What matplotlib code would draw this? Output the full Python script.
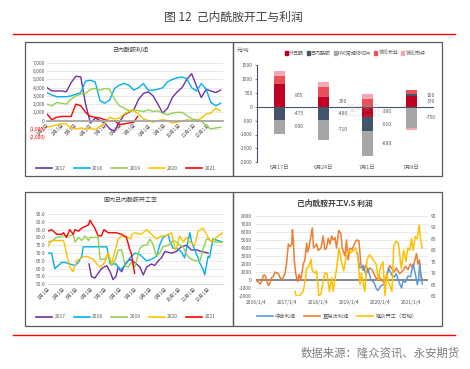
import matplotlib
matplotlib.use("Agg")
import matplotlib.pyplot as plt
from matplotlib.lines import Line2D
from matplotlib.patches import Rectangle, Patch

plt.rcParams['font.family'] = ['Noto Sans CJK SC', 'DejaVu Sans']
plt.rcParams['axes.unicode_minus'] = False

W, H = 470, 369

# ---------------- Data ----------------
# Panel 1: caprolactam profit by year (day of year, yuan/t)
p17_d = [0, 10, 20, 30, 40, 50, 60, 70, 80, 90, 100, 110, 120, 130, 140, 150, 160, 170, 180, 190, 200, 210, 220, 230, 240, 250, 260, 270, 280, 290, 300, 310, 320, 330, 340, 350, 360]
p17_v = [4000, 3600, 3600, 3600, 3500, 4600, 5400, 5300, 2000, -300, 300, 0, -300, -1000, -1300, -200, 700, 1000, 1300, 2600, 3300, 3500, 3000, 2000, 900, 1500, 2800, 3500, 4000, 5000, 5700, 4200, 2800, 3800, 3600, 3400, 3700]
p18_d = p17_d
p18_v = [3400, 3100, 2900, 2900, 2900, 3000, 3200, 3400, 4800, 4900, 4700, 2400, 2100, 2500, 3900, 4300, 4500, 4300, 3700, 4000, 4500, 3700, 3700, 3800, 4000, 4700, 5000, 5200, 5300, 5100, 4000, 3600, 4500, 3800, 2200, 1800, 2100]
p19_d = p17_d
p19_v = [2000, 1800, 2200, 2100, 2000, 2600, 3000, 3200, 3300, 3800, 3900, 3700, 3900, 3800, 2600, 1800, 1500, 1200, 1300, 1200, 1100, 1300, 1100, 1200, 900, 700, 900, 1000, 1000, 600, 200, 100, 0, -700, -1000, -900, -800]
p20_d = p17_d
p20_v = [-800, -700, -500, -400, -400, -900, -1000, -900, -1000, -900, -1100, -700, -300, 400, 200, 300, 800, 1100, 1200, 800, 200, 0, -200, 0, 100, 0, -300, -200, -100, 100, 0, -100, 300, 800, 900, 1500, 1200]
p21_d = [0, 10, 20, 30, 40, 50, 60, 70, 80, 90, 100, 110, 120, 130, 140, 150, 160, 170, 180, 188]
p21_v = [800, 100, 400, 500, 500, 500, 2000, 1800, 1000, 500, 400, 300, 100, -100, 0, -500, -400, -300, -200, 500]
profit_years = ['2017', '2018', '2019', '2020', '2021']
month_labels = [f'{m}月1日' for m in range(1, 13)]
month_days = [0, 31, 59, 90, 120, 151, 181, 212, 243, 273, 304, 334]

# Panel 2: weekly profit change (yuan/t)
bar_dates = ['6月17日', '6月24日', '7月1日', '7月8日']
chg_cyclohexanone = [805, 350, -380, 370]
chg_caprolactam = [-475, -480, -510, 100]
chg_pa6 = [-500, -710, -880, -750]
chg_filament = [310, 350, 265, 140]
chg_cord = [180, 180, 180, -100]
bar_names = ['环己酮', '己内酰胺', 'PA6常规纺切片', '锦纶长丝', '锦纶帘杆']

# Panel 3: operating rate by year (day of year, %)
r17_d = [86, 91, 98, 105, 112, 123, 130, 136, 142, 147, 154, 161, 171, 185, 192, 199, 206, 216, 223, 230, 237, 244, 258, 268, 278, 289, 299, 310, 320, 334]
r17_v = [63, 55, 54, 57, 60, 62, 58, 53, 55, 61, 58, 63, 66, 63, 61, 56, 61, 63, 62, 65, 67, 71, 70, 71, 74, 75, 72, 72, 71, 70]
r18_d = [0, 8, 15, 22, 29, 36, 46, 57, 64, 71, 74, 123, 130, 143, 150, 161, 171, 182, 192, 206, 216, 227, 233, 240, 251, 254, 261, 268, 278, 285, 289, 296, 299, 306, 313, 316, 323, 327, 334, 337, 344, 355, 365]
r18_v = [70, 70, 60, 62, 64, 64, 63, 62, 64, 68, 74, 74, 63, 63, 59, 62, 67, 70, 69, 65, 66, 68, 75, 80, 82, 78, 73, 73, 71, 67, 73, 83, 78, 72, 67, 64, 60, 56, 68, 67, 79, 78, 77]
r19_d = [0, 10, 19, 32, 46, 53, 57, 64, 71, 78, 85, 88, 105, 109, 119, 126, 133, 140, 147, 154, 161, 168, 174, 181, 192, 199, 206, 213, 220, 226, 233, 240, 251, 261, 268, 275, 282, 289, 299, 310, 317, 324, 331, 341, 351, 365]
r19_v = [77, 78, 80, 81, 81, 82, 77, 80, 78, 81, 78, 80, 80, 66, 66, 70, 62, 65, 72, 72, 62, 61, 64, 61, 73, 75, 75, 79, 75, 68, 70, 74, 75, 78, 77, 75, 74, 69, 66, 65, 65, 73, 79, 78, 77, 77]
r20_d = [0, 8, 26, 33, 39, 46, 53, 60, 71, 81, 95, 102, 109, 119, 126, 133, 140, 147, 154, 161, 168, 173, 175, 181, 195, 206, 216, 226, 237, 247, 258, 265, 268, 275, 282, 289, 296, 306, 313, 323, 334, 341, 351, 365]
r20_v = [74, 78, 78, 78, 70, 61, 58, 65, 67, 68, 66, 63, 61, 64, 70, 63, 71, 79, 81, 81, 80, 79, 82, 83, 82, 85, 82, 79, 81, 81, 83, 72, 73, 81, 77, 80, 77, 75, 84, 86, 80, 77, 80, 83]
r21_d = [0, 8, 19, 29, 33, 39, 46, 53, 57, 64, 71, 78, 85, 88, 98, 105, 112, 117, 126, 143, 154, 164, 171, 174, 181]
r21_v = [84, 85, 82, 82, 83, 80, 85, 82, 85, 84, 86, 87, 88, 91, 86, 81, 81, 85, 83, 83, 82, 80, 72, 70, 57]

# Panel 4: operating rate vs profit (decimal year)
direct_t = [2016.00, 2016.09, 2016.14, 2016.19, 2016.25, 2016.30, 2016.35, 2016.41, 2016.46, 2016.51, 2016.57, 2016.62, 2016.67, 2016.73, 2016.78, 2016.83, 2016.89, 2016.94, 2016.99, 2017.05, 2017.10, 2017.16, 2017.18, 2017.21, 2017.24, 2017.29, 2017.35, 2017.40, 2017.45, 2017.53, 2017.58, 2017.64, 2017.67, 2017.71, 2017.82, 2017.86, 2017.96, 2018.01, 2018.10, 2018.17, 2018.22, 2018.28, 2018.33, 2018.39, 2018.44, 2018.49, 2018.55, 2018.60, 2018.67, 2018.74, 2018.78, 2018.87, 2018.92, 2018.97, 2019.03, 2019.10, 2019.17, 2019.24, 2019.32, 2019.38, 2019.45, 2019.53, 2019.59, 2019.67, 2019.74, 2019.83, 2019.91, 2019.96, 2020.04, 2020.13, 2020.20, 2020.31, 2020.36, 2020.45, 2020.52, 2020.63, 2020.74, 2020.81, 2020.90, 2020.97, 2021.06, 2021.17, 2021.22, 2021.27, 2021.30, 2021.35]
direct_v = [0, -300, -500, -200, 600, 600, 0, -700, -400, 300, 400, 1000, 900, 800, 300, 100, 300, 800, 2000, 4500, 4200, 4400, 6300, 5000, 2500, 700, -200, 700, 0, 2000, 2500, 4600, 3500, 4000, 6500, 4000, 4500, 3700, 4000, 5500, 3800, 4000, 5200, 4500, 5500, 5000, 5300, 4000, 6200, 5800, 4000, 3000, 5000, 2500, 4000, 3800, 4500, 5000, 4900, 2000, 1200, 1800, 1000, 1500, 1300, 500, 0, 500, 0, -300, 500, 1800, 1500, 1000, 1500, 800, 1200, 1700, 1300, 2000, 1500, 3300, 2000, 2500, 800, 0]
total_t = [2019.27, 2019.34, 2019.45, 2019.55, 2019.60, 2019.71, 2019.80, 2019.88, 2019.93, 2020.01, 2020.12, 2020.20, 2020.27, 2020.38, 2020.46, 2020.52, 2020.63, 2020.69, 2020.74, 2020.81, 2020.90, 2020.98, 2021.06, 2021.13, 2021.20, 2021.24, 2021.27, 2021.33, 2021.36]
total_v = [3400, 1500, 1800, 600, 1500, 0, -300, -1100, -1300, -800, -500, 0, 1500, 600, 400, 800, -500, -1000, 0, -300, 500, 400, 2000, 800, -600, 200, 2000, 0, -500]
rate_t = [2017.27, 2017.30, 2017.40, 2017.53, 2017.58, 2017.64, 2017.71, 2017.78, 2017.82, 2017.91, 2017.96, 2018.03, 2018.10, 2018.22, 2018.29, 2018.37, 2018.44, 2018.49, 2018.60, 2018.68, 2018.76, 2018.83, 2018.91, 2019.00, 2019.07, 2019.15, 2019.22, 2019.29, 2019.35, 2019.40, 2019.51, 2019.58, 2019.66, 2019.77, 2019.87, 2019.95, 2020.00, 2020.09, 2020.16, 2020.21, 2020.27, 2020.38, 2020.44, 2020.51, 2020.59, 2020.68, 2020.76, 2020.83, 2020.89, 2020.95, 2021.01, 2021.06, 2021.13, 2021.19, 2021.26, 2021.29, 2021.35]
rate_v = [62, 60, 60, 62, 66, 72, 73, 76, 71, 70, 71, 60, 61, 70, 70, 62, 68, 62, 72, 81, 75, 71, 77, 80, 79, 80, 81, 76, 65, 70, 62, 76, 78, 76, 74, 67, 72, 75, 60, 70, 66, 62, 82, 84, 83, 72, 80, 75, 81, 80, 85, 80, 86, 85, 91, 86, 81]
year_ticks = [2016, 2017, 2018, 2019, 2020, 2021]
year_labels = ['2016/1/4', '2017/1/4', '2018/1/4', '2019/1/4', '2020/1/4', '2021/1/4']

# ---------------- Figure ----------------
fig = plt.figure(figsize=(W / 100, H / 100), dpi=100)
fig.patch.set_facecolor('white')


def rect(x0, y0, x1, y1):
    return [x0 / W, 1 - y1 / H, (x1 - x0) / W, (y1 - y0) / H]


def fx(x):
    return x / W


def fy(y):
    return 1 - y / H


TXT = '#595959'

# main title and red rules
fig.text(fx(233), fy(17), '图 12  己内酰胺开工与利润', ha='center', va='center', fontsize=8.5, color='#404040')
fig.add_artist(Line2D([fx(13), fx(455)], [fy(34), fy(34)], color='#FF0000', lw=1.0))
fig.add_artist(Line2D([fx(13), fx(455)], [fy(335), fy(335)], color='#FF0000', lw=1.0))
fig.text(fx(460), fy(353), '数据来源：隆众资讯、永安期货', ha='right', va='center', fontsize=8.2, color='#7F7F7F')

# panel boxes
for (x0, y0, x1, y1) in [(25, 42, 233, 176), (233, 42, 442, 176), (25, 192, 233, 326), (233, 192, 442, 326)]:
    fig.add_artist(Rectangle((fx(x0), fy(y1)), (x1 - x0) / W, (y1 - y0) / H, fill=False,
                             edgecolor='#595959', lw=0.9, transform=fig.transFigure))

year_colors = ['#7030A0', '#00B0F0', '#92D050', '#FFC000', '#FF0000']

# ---------------- Panel 1 ----------------
ax1 = fig.add_axes(rect(47, 63, 223, 137))
for d, v, c in zip([p17_d, p18_d, p19_d, p20_d, p21_d], [p17_v, p18_v, p19_v, p20_v, p21_v], year_colors):
    ax1.plot(d, v, color=c, lw=1.0)
ax1.set_xlim(0, 365)
ax1.set_ylim(-2000, 7000)
for s in ['top', 'right', 'left']:
    ax1.spines[s].set_visible(False)
ax1.spines['bottom'].set_position(('data', 0))
ax1.spines['bottom'].set_color('#A6A6A6')
ax1.spines['bottom'].set_linewidth(1.3)
ax1.yaxis.grid(True, color='#E0E0E0', lw=0.5)
ax1.set_axisbelow(True)
yt = list(range(-2000, 7001, 1000))
ax1.set_yticks(yt)
ylabs = []
for v in yt:
    if v < 0:
        ylabs.append(f'({-v:,})')
    elif v == 0:
        ylabs.append('0')
    else:
        ylabs.append(f'{v:,}')
ax1.set_yticklabels(ylabs, fontsize=3.6, color=TXT)
for t, v in zip(ax1.get_yticklabels(), yt):
    if v < 0:
        t.set_color('#FF0000')
ax1.set_xticks(month_days)
ax1.set_xticklabels(month_labels, fontsize=3.6, color=TXT, rotation=45, ha='right', rotation_mode='anchor')
ax1.tick_params(length=0, pad=1.5)
fig.text(fx(130), fy(50), '己内酰胺利润', ha='center', va='center', fontsize=4.3, color='#404040')
h1 = [Line2D([], [], color=c, lw=1.2) for c in year_colors]
fig.legend(h1, profit_years, loc='center', bbox_to_anchor=(fx(126), fy(168)), ncol=5, frameon=False,
           fontsize=3.6, handlelength=3.2, columnspacing=1.6, handletextpad=0.5, labelcolor=TXT)

# ---------------- Panel 2 ----------------
ax2 = fig.add_axes(rect(257, 65, 433, 162.3))
series = [chg_cyclohexanone, chg_caprolactam, chg_pa6, chg_filament, chg_cord]
bcolors = ['#C00023', '#44546A', '#A6A6A6', '#E8505B', '#F4A7B0']
xs = list(range(len(bar_dates)))
pos_base = [0.0] * len(xs)
neg_base = [0.0] * len(xs)
bw = 0.25
for vals, c in zip(series, bcolors):
    bottoms = []
    for i, v in enumerate(vals):
        if v >= 0:
            bottoms.append(pos_base[i])
            pos_base[i] += v
        else:
            bottoms.append(neg_base[i])
            neg_base[i] += v
    ax2.bar(xs, vals, bw, bottom=bottoms, color=c, zorder=2)
ax2.set_xlim(-0.5, 3.5)
ax2.set_ylim(-2000, 1500)
ax2.set_yticks(range(-2000, 1501, 500))
ax2.set_yticklabels([str(v) for v in range(-2000, 1501, 500)], fontsize=3.6, color=TXT)
for s in ['top', 'right']:
    ax2.spines[s].set_visible(False)
ax2.spines['left'].set_color('#44546A')
ax2.spines['left'].set_linewidth(0.8)
ax2.spines['bottom'].set_position(('data', 0))
ax2.spines['bottom'].set_color('#44546A')
ax2.spines['bottom'].set_linewidth(0.8)
ax2.set_xticks([])
ax2.tick_params(axis='y', length=1.5, width=0.5, color='#44546A', pad=1.5)
for i, lab in enumerate(bar_dates):
    ax2.text(i, -2080, lab, ha='center', va='top', fontsize=3.8, color=TXT, clip_on=False)
# value labels
for i in xs:
    pb = 0.0
    nb = 0.0
    for k, vals in enumerate(series[:3]):
        v = vals[i]
        if v >= 0:
            cy = pb + v / 2
            pb += v
        else:
            cy = nb + v / 2
            nb += v
        ax2.text(i + 0.45, cy, f'{v}', ha='center', va='center', fontsize=3.6, color=TXT)
# faint watermark
ax2.text(1.92, -60, '隆众资讯', ha='center', va='center', fontsize=6, color='#B0B0B0', alpha=0.35, zorder=5)
ax2.text(1.92, -330, 'WWW.OILCHEM.NET', ha='center', va='center', fontsize=2.6, color='#B0B0B0', alpha=0.4, zorder=5)
fig.text(fx(243), fy(50), '元/吨', ha='center', va='center', fontsize=3.8, color=TXT)
h2 = [Patch(color=c) for c in bcolors]
fig.legend(h2, bar_names, loc='center', bbox_to_anchor=(fx(355), fy(53)), ncol=5, frameon=False,
           fontsize=3.6, handlelength=0.6, handleheight=0.6, columnspacing=0.6, handletextpad=0.2, labelcolor=TXT)

# ---------------- Panel 3 ----------------
ax3 = fig.add_axes(rect(47.7, 214, 223, 284.3))
for d, v, c in zip([r17_d, r18_d, r19_d, r20_d, r21_d], [r17_v, r18_v, r19_v, r20_v, r21_v], year_colors):
    ax3.plot(d, v, color=c, lw=1.0)
ax3.set_xlim(0, 365)
ax3.set_ylim(50, 95)
for s in ['top', 'right', 'left']:
    ax3.spines[s].set_visible(False)
ax3.spines['bottom'].set_color('#D9D9D9')
ax3.yaxis.grid(True, color='#E0E0E0', lw=0.5)
ax3.set_axisbelow(True)
ax3.set_yticks(range(50, 96, 5))
ax3.set_yticklabels([f'{v:.1f}' for v in range(50, 96, 5)], fontsize=3.6, color=TXT)
ax3.set_xticks(month_days)
ax3.set_xticklabels(month_labels, fontsize=3.6, color=TXT, rotation=45, ha='right', rotation_mode='anchor')
ax3.tick_params(length=0, pad=1.5)
fig.text(fx(130), fy(200), '国内己内酰胺开工率', ha='center', va='center', fontsize=4.3, color='#404040')
fig.legend(h1, profit_years, loc='center', bbox_to_anchor=(fx(126), fy(317)), ncol=5, frameon=False,
           fontsize=3.6, handlelength=3.2, columnspacing=1.6, handletextpad=0.5, labelcolor=TXT)

# ---------------- Panel 4 ----------------
ax4 = fig.add_axes(rect(255.7, 216, 428, 296))
ax4.plot(direct_t, direct_v, color='#ED7D31', lw=1.1, zorder=3)
ax4.plot(total_t, total_v, color='#5B9BD5', lw=1.1, zorder=3)
ax4.set_xlim(2016.0, 2021.54)
ax4.set_ylim(-2000, 8000)
ax4.set_yticks(range(-2000, 8001, 1000))
ax4.set_yticklabels([str(v) for v in range(-2000, 8001, 1000)], fontsize=3.6, color=TXT)
ax4.yaxis.grid(True, color='#E0E0E0', lw=0.5)
ax4.axhline(0, color='#7F7F7F', lw=1.3, zorder=2)
ax4.set_axisbelow(True)
for s in ['top', 'right', 'left', 'bottom']:
    ax4.spines[s].set_visible(False)
ax4.set_xticks(year_ticks)
ax4.set_xticklabels(year_labels, fontsize=3.6, color=TXT)
ax4.tick_params(length=0, pad=3)
ax4r = ax4.twinx()
ax4r.plot(rate_t, rate_v, color='#FFC000', lw=1.1, zorder=4)
ax4r.set_ylim(60, 95)
ax4r.set_yticks(range(60, 96, 5))
ax4r.set_yticklabels([str(v) for v in range(60, 96, 5)], fontsize=3.6, color=TXT)
ax4r.tick_params(length=0, pad=2)
for s in ['top', 'right', 'left', 'bottom']:
    ax4r.spines[s].set_visible(False)
fig.text(fx(335), fy(203.5), '己内酰胺开工V.S 利润', ha='center', va='center', fontsize=5.6,
         color='#404040', fontweight='bold')
h4 = [Line2D([], [], color=c, lw=1.2) for c in ['#5B9BD5', '#ED7D31', '#FFC000']]
fig.legend(h4, ['综合利润', '直接法利润', '隆众开工（右轴）'], loc='center', bbox_to_anchor=(fx(337), fy(316.7)),
           ncol=3, frameon=False, fontsize=3.8, handlelength=3.0, columnspacing=1.5, handletextpad=0.5,
           labelcolor=TXT)

fig.savefig('out.png', dpi=100, facecolor='white')
